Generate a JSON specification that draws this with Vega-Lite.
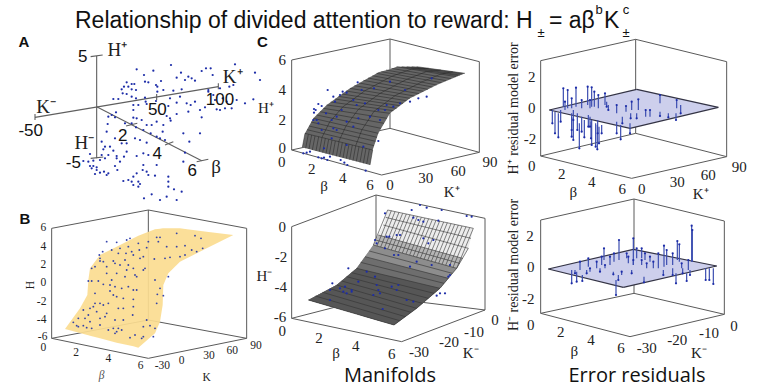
{"$schema":"https://vega.github.io/schema/vega-lite/v6.json","width":757,"height":388,"padding":0,"autosize":{"type":"none"},"background":"white","config":{"view":{"stroke":null}},
"datasets":{
"stemsTop":[{"x":187,"y":280,"y2":240},{"x":195,"y":310,"y2":245},{"x":205,"y":322,"y2":250},{"x":212,"y":275,"y2":240},{"x":245,"y":320,"y2":262},{"x":250,"y":330,"y2":265},{"x":268,"y":355,"y2":280},{"x":283,"y":322,"y2":270},{"x":303,"y":325,"y2":275},{"x":305,"y":345,"y2":270},{"x":317,"y":350,"y2":280},{"x":322,"y":358,"y2":285},{"x":327,"y":340,"y2":290},{"x":323,"y":310,"y2":270},{"x":250,"y":270,"y2":240},{"x":245,"y":300,"y2":250},{"x":262,"y":300,"y2":250},{"x":275,"y":305,"y2":260},{"x":295,"y":290,"y2":255},{"x":300,"y":290,"y2":260},{"x":335,"y":310,"y2":285},{"x":380,"y":310,"y2":275},{"x":392,"y":328,"y2":285},{"x":420,"y":310,"y2":280},{"x":220,"y":175,"y2":230},{"x":233,"y":180,"y2":235},{"x":258,"y":173,"y2":230},{"x":245,"y":205,"y2":235},{"x":293,"y":170,"y2":225},{"x":305,"y":172,"y2":230},{"x":313,"y":185,"y2":230},{"x":325,"y":195,"y2":235},{"x":345,"y":190,"y2":225},{"x":350,"y":230,"y2":215},{"x":275,"y":210,"y2":235},{"x":225,"y":215,"y2":240},{"x":300,"y":210,"y2":235},{"x":355,"y":240,"y2":225},{"x":380,"y":225,"y2":250},{"x":408,"y":228,"y2":245},{"x":425,"y":215,"y2":240},{"x":445,"y":208,"y2":240},{"x":467,"y":240,"y2":260},{"x":510,"y":195,"y2":220},{"x":560,"y":210,"y2":235},{"x":572,"y":250,"y2":225},{"x":558,"y":270,"y2":250},{"x":510,"y":258,"y2":245},{"x":480,"y":240,"y2":260},{"x":440,"y":265,"y2":250},{"x":422,"y":265,"y2":250},{"x":397,"y":280,"y2":260},{"x":535,"y":262,"y2":250}],
"stemsBot":[{"x":387,"y":105,"y2":165},{"x":430,"y":100,"y2":180},{"x":342,"y":130,"y2":165},{"x":605,"y":62,"y2":170},{"x":607,"y":75,"y2":170},{"x":562,"y":108,"y2":165},{"x":568,"y":118,"y2":170},{"x":522,"y":122,"y2":185},{"x":530,"y":135,"y2":180},{"x":548,"y":145,"y2":180},{"x":505,"y":145,"y2":190},{"x":440,"y":130,"y2":160},{"x":455,"y":130,"y2":160},{"x":465,"y":145,"y2":165},{"x":480,"y":155,"y2":170},{"x":490,"y":170,"y2":190},{"x":410,"y":145,"y2":160},{"x":372,"y":145,"y2":170},{"x":360,"y":155,"y2":180},{"x":335,"y":155,"y2":180},{"x":295,"y":160,"y2":185},{"x":270,"y":170,"y2":195},{"x":320,"y":170,"y2":190},{"x":345,"y":180,"y2":190},{"x":300,"y":190,"y2":200},{"x":415,"y":155,"y2":175},{"x":430,"y":165,"y2":180},{"x":455,"y":165,"y2":180},{"x":470,"y":175,"y2":190},{"x":575,"y":175,"y2":190},{"x":595,"y":165,"y2":195},{"x":245,"y":235,"y2":195},{"x":260,"y":230,"y2":200},{"x":277,"y":228,"y2":210},{"x":255,"y":205,"y2":195},{"x":378,"y":270,"y2":225},{"x":385,"y":225,"y2":210},{"x":395,"y":200,"y2":210},{"x":290,"y":205,"y2":195},{"x":330,"y":200,"y2":190},{"x":370,"y":208,"y2":200},{"x":425,"y":205,"y2":195},{"x":462,"y":232,"y2":215},{"x":520,"y":210,"y2":195},{"x":548,"y":210,"y2":190},{"x":558,"y":235,"y2":205},{"x":590,"y":228,"y2":205},{"x":578,"y":205,"y2":190},{"x":600,"y":210,"y2":195},{"x":647,"y":225,"y2":190},{"x":658,"y":225,"y2":190},{"x":670,"y":237,"y2":190}]
},
"resolve":{"scale":{"x":"independent","y":"independent"}},
"layer":[
{"encoding":{"x":{"field":"x","type":"quantitative","axis":null,"scale":{"domain":[0,2271],"nice":false,"zero":false}},"y":{"field":"y","type":"quantitative","axis":null,"scale":{"domain":[1074,-90],"nice":false,"zero":false}}},
"layer":[
{"data":{"values":[{"x":290,"y":78,"x2":290,"y2":385},{"x":272,"y":80,"x2":308,"y2":75},{"x":272,"y":385,"x2":310,"y2":381},{"x":105,"y":262,"x2":655,"y2":170},{"x":105,"y":252,"x2":105,"y2":270},{"x":655,"y":160,"x2":655,"y2":178},{"x":470,"y":192,"x2":470,"y2":210},{"x":290,"y":230,"x2":605,"y2":392},{"x":590,"y":395,"x2":625,"y2":388},{"x":378,"y":288,"x2":412,"y2":280},{"x":495,"y":345,"x2":520,"y2":335}]},"mark":{"type":"rule","stroke":"#5f5f5f","strokeWidth":1.1},"encoding":{"x2":{"field":"x2"},"y2":{"field":"y2"}}},
{"data":{"values":[{"x":513,"y":105},{"x":705,"y":103},{"x":410,"y":118},{"x":460,"y":122},{"x":618,"y":115},{"x":632,"y":115},{"x":605,"y":123},{"x":543,"y":128},{"x":638,"y":135},{"x":432,"y":135},{"x":585,"y":152},{"x":565,"y":140},{"x":575,"y":145},{"x":530,"y":143},{"x":555,"y":150},{"x":483,"y":153},{"x":435,"y":155},{"x":445,"y":157},{"x":468,"y":165},{"x":472,"y":170},{"x":380,"y":157},{"x":395,"y":162},{"x":403,"y":162},{"x":372,"y":170},{"x":385,"y":170},{"x":365,"y":178},{"x":395,"y":178},{"x":408,"y":180},{"x":472,"y":185},{"x":490,"y":180},{"x":520,"y":182},{"x":545,"y":178},{"x":625,"y":180},{"x":660,"y":175},{"x":688,"y":170},{"x":700,"y":165},{"x":368,"y":190},{"x":380,"y":192},{"x":395,"y":200},{"x":408,"y":205},{"x":435,"y":203},{"x":437,"y":215},{"x":468,"y":213},{"x":340,"y":207},{"x":355,"y":207},{"x":510,"y":205},{"x":540,"y":200},{"x":625,"y":185},{"x":640,"y":195},{"x":585,"y":215},{"x":560,"y":220},{"x":572,"y":225},{"x":645,"y":210},{"x":668,"y":205},{"x":680,"y":215},{"x":710,"y":210},{"x":735,"y":220},{"x":765,"y":128},{"x":780,"y":150},{"x":760,"y":208},{"x":400,"y":225},{"x":415,"y":225},{"x":400,"y":240},{"x":440,"y":222},{"x":505,"y":228},{"x":530,"y":218},{"x":600,"y":240},{"x":615,"y":232},{"x":650,"y":238},{"x":660,"y":240},{"x":675,"y":235},{"x":695,"y":235},{"x":565,"y":245},{"x":530,"y":252},{"x":500,"y":258},{"x":510,"y":265},{"x":605,"y":262},{"x":512,"y":272},{"x":348,"y":247},{"x":335,"y":255},{"x":325,"y":260},{"x":345,"y":262},{"x":400,"y":263},{"x":410,"y":265},{"x":425,"y":270},{"x":375,"y":280},{"x":395,"y":280},{"x":440,"y":285},{"x":455,"y":285},{"x":470,"y":275},{"x":490,"y":285},{"x":408,"y":292},{"x":430,"y":300},{"x":452,"y":310},{"x":488,"y":305},{"x":470,"y":320},{"x":480,"y":325},{"x":495,"y":330},{"x":550,"y":310},{"x":600,"y":310},{"x":568,"y":335},{"x":323,"y":282},{"x":320,"y":305},{"x":405,"y":325},{"x":420,"y":330},{"x":440,"y":338},{"x":305,"y":335},{"x":345,"y":325},{"x":365,"y":340},{"x":380,"y":340},{"x":315,"y":350},{"x":330,"y":350},{"x":310,"y":358},{"x":340,"y":362},{"x":350,"y":378},{"x":380,"y":365},{"x":410,"y":378},{"x":430,"y":370},{"x":445,"y":375},{"x":470,"y":405},{"x":555,"y":368},{"x":550,"y":395},{"x":270,"y":372},{"x":305,"y":375},{"x":325,"y":375},{"x":315,"y":385},{"x":300,"y":390},{"x":280,"y":392},{"x":250,"y":393},{"x":265,"y":395},{"x":350,"y":385},{"x":372,"y":380},{"x":360,"y":395},{"x":345,"y":408},{"x":352,"y":420},{"x":430,"y":405},{"x":440,"y":425},{"x":428,"y":420},{"x":410,"y":430},{"x":400,"y":440},{"x":385,"y":450},{"x":370,"y":453},{"x":395,"y":455},{"x":415,"y":455},{"x":420,"y":462},{"x":400,"y":465},{"x":415,"y":470},{"x":445,"y":435},{"x":465,"y":437},{"x":270,"y":408},{"x":280,"y":408},{"x":290,"y":412},{"x":275,"y":415},{"x":290,"y":420},{"x":300,"y":428},{"x":285,"y":432},{"x":312,"y":425},{"x":325,"y":430},{"x":320,"y":435},{"x":505,"y":440},{"x":505,"y":455},{"x":505,"y":470},{"x":522,"y":478},{"x":545,"y":485},{"x":530,"y":510},{"x":500,"y":500},{"x":480,"y":510},{"x":455,"y":493},{"x":432,"y":505}]},"mark":{"type":"point","filled":true,"size":5,"color":"#1c2ca8","opacity":1}},
{"data":{"values":[{"x":248,"y":82,"t":"5"},{"x":92,"y":302,"t":"-50"},{"x":472,"y":240,"t":"50"},{"x":660,"y":210,"t":"100"},{"x":368,"y":317,"t":"2"},{"x":472,"y":372,"t":"4"},{"x":577,"y":422,"t":"6"},{"x":220,"y":400,"t":"-5"}]},"mark":{"type":"text","font":"Liberation Sans","fontSize":17,"align":"center","baseline":"middle","color":"#111"},"encoding":{"text":{"field":"t"}}},
{"data":{"values":[{"x":352,"y":60,"t":"H⁺"},{"x":698,"y":142,"t":"K⁺"},{"x":138,"y":230,"t":"K⁻"},{"x":253,"y":340,"t":"H⁻"},{"x":648,"y":410,"t":"β"}]},"mark":{"type":"text","font":"Liberation Serif","fontSize":19,"align":"center","baseline":"middle","color":"#222"},"encoding":{"text":{"field":"t"}}},
{"data":{"values":[{"x":72,"y":35,"t":"A"}]},"mark":{"type":"text","font":"Liberation Sans","fontWeight":"bold","fontSize":15,"align":"center","baseline":"middle","color":"#111"},"encoding":{"text":{"field":"t"}}}
]},
{"encoding":{"x":{"field":"x","type":"quantitative","axis":null,"scale":{"domain":[0,2271],"nice":false,"zero":false}},"y":{"field":"y","type":"quantitative","axis":null,"scale":{"domain":[549,-615],"nice":false,"zero":false}}},
"layer":[
{"data":{"values":[{"x":155,"y":70,"x2":155,"y2":400},{"x":155,"y":70,"x2":445,"y2":15},{"x":445,"y":15,"x2":740,"y2":70},{"x":445,"y":15,"x2":445,"y2":345},{"x":740,"y":70,"x2":740,"y2":400},{"x":155,"y":400,"x2":445,"y2":345},{"x":445,"y":345,"x2":740,"y2":400},{"x":155,"y":400,"x2":445,"y2":460},{"x":445,"y":460,"x2":740,"y2":400}]},"mark":{"type":"rule","stroke":"#5a5a5a","strokeWidth":1},"encoding":{"x2":{"field":"x2"},"y2":{"field":"y2"}}},
{"data":{"values":[{"x":195,"y":372,"y2":372},{"x":240,"y":310,"y2":384},{"x":262,"y":270,"y2":390},{"x":265,"y":225,"y2":391},{"x":270,"y":190,"y2":392},{"x":300,"y":150,"y2":400},{"x":350,"y":125,"y2":413},{"x":400,"y":100,"y2":424},{"x":415,"y":92,"y2":428},{"x":465,"y":73,"y2":385},{"x":480,"y":71,"y2":350},{"x":488,"y":70,"y2":300},{"x":490,"y":70,"y2":240},{"x":505,"y":70,"y2":205},{"x":540,"y":70,"y2":170},{"x":550,"y":71,"y2":165},{"x":620,"y":80,"y2":130},{"x":700,"y":90,"y2":90}]},"mark":{"type":"area","color":"#fbdc90","opacity":0.92,"interpolate":"linear"},"encoding":{"y2":{"field":"y2"}}},
{"data":{"values":[{"x":320,"y":110},{"x":350,"y":112},{"x":390,"y":100},{"x":380,"y":105},{"x":360,"y":130},{"x":385,"y":125},{"x":415,"y":115},{"x":445,"y":110},{"x":470,"y":97},{"x":480,"y":97},{"x":530,"y":85},{"x":585,"y":92},{"x":603,"y":100},{"x":298,"y":150},{"x":308,"y":140},{"x":300,"y":160},{"x":335,"y":135},{"x":355,"y":145},{"x":378,"y":145},{"x":395,"y":140},{"x":418,"y":135},{"x":440,"y":128},{"x":475,"y":110},{"x":500,"y":125},{"x":530,"y":125},{"x":555,"y":122},{"x":575,"y":135},{"x":608,"y":130},{"x":590,"y":140},{"x":555,"y":150},{"x":540,"y":155},{"x":495,"y":160},{"x":510,"y":157},{"x":463,"y":162},{"x":430,"y":155},{"x":420,"y":160},{"x":400,"y":150},{"x":375,"y":165},{"x":340,"y":168},{"x":300,"y":168},{"x":310,"y":170},{"x":275,"y":190},{"x":285,"y":185},{"x":320,"y":185},{"x":345,"y":175},{"x":360,"y":180},{"x":385,"y":180},{"x":400,"y":190},{"x":430,"y":195},{"x":435,"y":190},{"x":380,"y":195},{"x":350,"y":205},{"x":320,"y":205},{"x":405,"y":210},{"x":410,"y":215},{"x":375,"y":215},{"x":335,"y":225},{"x":295,"y":228},{"x":275,"y":228},{"x":265,"y":228},{"x":465,"y":225},{"x":505,"y":215},{"x":480,"y":250},{"x":310,"y":238},{"x":330,"y":240},{"x":345,"y":245},{"x":365,"y":250},{"x":385,"y":245},{"x":400,"y":255},{"x":410,"y":255},{"x":330,"y":258},{"x":340,"y":270},{"x":350,"y":275},{"x":370,"y":280},{"x":400,"y":283},{"x":285,"y":265},{"x":472,"y":268},{"x":490,"y":272},{"x":470,"y":295},{"x":300,"y":295},{"x":285,"y":295},{"x":280,"y":305},{"x":325,"y":295},{"x":310,"y":300},{"x":250,"y":315},{"x":270,"y":310},{"x":320,"y":325},{"x":355,"y":310},{"x":370,"y":310},{"x":400,"y":305},{"x":398,"y":330},{"x":265,"y":330},{"x":235,"y":340},{"x":255,"y":340},{"x":270,"y":350},{"x":300,"y":340},{"x":315,"y":335},{"x":345,"y":345},{"x":370,"y":345},{"x":220,"y":352},{"x":230,"y":362},{"x":250,"y":362},{"x":260,"y":368},{"x":275,"y":370},{"x":235,"y":365},{"x":300,"y":360},{"x":325,"y":375},{"x":340,"y":370},{"x":355,"y":370},{"x":365,"y":375},{"x":345,"y":385},{"x":390,"y":398},{"x":430,"y":365},{"x":440,"y":345},{"x":465,"y":370},{"x":430,"y":395},{"x":425,"y":400},{"x":460,"y":395},{"x":405,"y":390},{"x":450,"y":362},{"x":350,"y":380},{"x":290,"y":320}]},"mark":{"type":"point","filled":true,"size":3.5,"color":"#2a3aa8","opacity":0.95}},
{"data":{"values":[{"x":130,"y":70,"t":"6"},{"x":130,"y":125,"t":"4"},{"x":130,"y":180,"t":"2"},{"x":130,"y":235,"t":"0"},{"x":125,"y":290,"t":"-2"},{"x":125,"y":345,"t":"-4"},{"x":128,"y":397,"t":"-6"},{"x":130,"y":429,"t":"0"},{"x":228,"y":445,"t":"2"},{"x":325,"y":462,"t":"4"},{"x":422,"y":482,"t":"6"},{"x":487,"y":482,"t":"-30"},{"x":545,"y":467,"t":"0"},{"x":627,"y":453,"t":"30"},{"x":697,"y":438,"t":"60"},{"x":768,"y":423,"t":"90"},{"x":620,"y":520,"t":"K"}]},"mark":{"type":"text","font":"Liberation Serif","fontSize":11.5,"align":"center","baseline":"middle","color":"#222"},"encoding":{"text":{"field":"t"}}},
{"data":{"values":[{"x":305,"y":512,"t":"β"}]},"mark":{"type":"text","font":"Liberation Serif","fontStyle":"italic","fontSize":11.5,"align":"center","baseline":"middle","color":"#555"},"encoding":{"text":{"field":"t"}}},
{"data":{"values":[{"x":93,"y":240,"t":"H"}]},"mark":{"type":"text","font":"Liberation Serif","fontSize":11.5,"angle":270,"align":"center","baseline":"middle","color":"#222"},"encoding":{"text":{"field":"t"}}},
{"data":{"values":[{"x":75,"y":42,"t":"B"}]},"mark":{"type":"text","font":"Liberation Sans","fontWeight":"bold","fontSize":15,"align":"center","baseline":"middle","color":"#111"},"encoding":{"text":{"field":"t"}}}
]},
{"encoding":{"x":{"field":"x","type":"quantitative","axis":null,"scale":{"domain":[-750,1521],"nice":false,"zero":false}},"y":{"field":"y","type":"quantitative","axis":null,"scale":{"domain":[1074,-90],"nice":false,"zero":false}}},
"layer":[
{"data":{"values":[{"x":125,"y":90,"x2":125,"y2":360},{"x":125,"y":90,"x2":420,"y2":27},{"x":420,"y":27,"x2":688,"y2":95},{"x":420,"y":27,"x2":420,"y2":295},{"x":688,"y":95,"x2":688,"y2":367},{"x":125,"y":360,"x2":420,"y2":295},{"x":420,"y":295,"x2":688,"y2":367},{"x":125,"y":360,"x2":395,"y2":435},{"x":395,"y":435,"x2":688,"y2":367}]},"mark":{"type":"rule","stroke":"#5a5a5a","strokeWidth":1},"encoding":{"x2":{"field":"x2"},"y2":{"field":"y2"}}},
{"data":{"values":[{"x":157,"y":352,"y2":352},{"x":165,"y":310,"y2":354},{"x":190,"y":265,"y2":361},{"x":230,"y":225,"y2":371},{"x":300,"y":175,"y2":389},{"x":360,"y":141,"y2":405},{"x":368,"y":137,"y2":360},{"x":385,"y":127,"y2":310},{"x":420,"y":118,"y2":250},{"x":440,"y":110,"y2":235},{"x":480,"y":110,"y2":205},{"x":500,"y":110,"y2":195},{"x":560,"y":118,"y2":165},{"x":645,"y":130,"y2":130}]},"mark":{"type":"area","color":"#666666"},"encoding":{"y2":{"field":"y2"}}},
{"data":{"values":[{"x":165,"y":310,"x2":368,"y2":360},{"x":177,"y":288,"x2":377,"y2":334},{"x":190,"y":265,"x2":385,"y2":310},{"x":210,"y":245,"x2":402,"y2":280},{"x":230,"y":225,"x2":420,"y2":250},{"x":255,"y":207,"x2":440,"y2":235},{"x":276,"y":192,"x2":459,"y2":220},{"x":300,"y":175,"x2":480,"y2":205},{"x":327,"y":159,"x2":507,"y2":191},{"x":354,"y":144,"x2":534,"y2":178},{"x":380,"y":130,"x2":560,"y2":165},{"x":408,"y":120,"x2":588,"y2":152},{"x":440,"y":110,"x2":618,"y2":140},{"x":470,"y":110,"x2":630,"y2":135},{"x":500,"y":110,"x2":645,"y2":130},{"x":171,"y":299,"x2":372,"y2":347},{"x":183,"y":276,"x2":381,"y2":322},{"x":200,"y":255,"x2":393,"y2":295},{"x":220,"y":235,"x2":411,"y2":265},{"x":242,"y":216,"x2":430,"y2":242},{"x":265,"y":199,"x2":449,"y2":227},{"x":288,"y":183,"x2":469,"y2":212},{"x":313,"y":167,"x2":493,"y2":198},{"x":340,"y":151,"x2":520,"y2":184},{"x":367,"y":137,"x2":547,"y2":171},{"x":394,"y":125,"x2":574,"y2":158},{"x":424,"y":115,"x2":603,"y2":146},{"x":455,"y":110,"x2":624,"y2":137},{"x":485,"y":110,"x2":637,"y2":132},{"x":165,"y":310,"x2":157,"y2":352},{"x":175,"y":313,"x2":167,"y2":355},{"x":185,"y":315,"x2":177,"y2":357},{"x":195,"y":318,"x2":187,"y2":360},{"x":206,"y":320,"x2":198,"y2":363},{"x":216,"y":323,"x2":208,"y2":365},{"x":226,"y":325,"x2":218,"y2":368},{"x":236,"y":328,"x2":228,"y2":371},{"x":246,"y":330,"x2":238,"y2":373},{"x":256,"y":333,"x2":248,"y2":376},{"x":267,"y":335,"x2":259,"y2":379},{"x":277,"y":338,"x2":269,"y2":381},{"x":287,"y":340,"x2":279,"y2":384},{"x":297,"y":343,"x2":289,"y2":386},{"x":307,"y":345,"x2":299,"y2":389},{"x":317,"y":348,"x2":309,"y2":392},{"x":327,"y":350,"x2":319,"y2":394},{"x":338,"y":353,"x2":330,"y2":397},{"x":348,"y":355,"x2":340,"y2":400},{"x":358,"y":358,"x2":350,"y2":402},{"x":368,"y":360,"x2":360,"y2":405},{"x":266,"y":335,"x2":288,"y2":288},{"x":288,"y":288,"x2":325,"y2":238},{"x":325,"y":238,"x2":390,"y2":190},{"x":390,"y":190,"x2":470,"y2":148},{"x":470,"y":148,"x2":529,"y2":125},{"x":529,"y":125,"x2":572,"y2":120},{"x":216,"y":322,"x2":239,"y2":276},{"x":239,"y":276,"x2":278,"y2":231},{"x":278,"y":231,"x2":345,"y2":182},{"x":345,"y":182,"x2":425,"y2":139},{"x":425,"y":139,"x2":485,"y2":117},{"x":485,"y":117,"x2":536,"y2":115},{"x":317,"y":347,"x2":336,"y2":299},{"x":336,"y":299,"x2":372,"y2":244},{"x":372,"y":244,"x2":435,"y2":197},{"x":435,"y":197,"x2":515,"y2":156},{"x":515,"y":156,"x2":573,"y2":132},{"x":573,"y":132,"x2":608,"y2":125}]},"mark":{"type":"rule","stroke":"#222222","strokeWidth":0.5},"encoding":{"x2":{"field":"x2"},"y2":{"field":"y2"}}},
{"data":{"values":[{"x":323,"y":157},{"x":233,"y":180},{"x":278,"y":185},{"x":290,"y":188},{"x":270,"y":195},{"x":250,"y":200},{"x":335,"y":180},{"x":372,"y":175},{"x":255,"y":215},{"x":205,"y":222},{"x":215,"y":228},{"x":192,"y":237},{"x":197,"y":240},{"x":192,"y":248},{"x":190,"y":270},{"x":200,"y":270},{"x":205,"y":280},{"x":228,"y":250},{"x":245,"y":270},{"x":260,"y":260},{"x":275,"y":240},{"x":310,"y":210},{"x":320,"y":225},{"x":345,"y":220},{"x":385,"y":240},{"x":405,"y":240},{"x":430,"y":230},{"x":450,"y":220},{"x":480,"y":215},{"x":530,"y":200},{"x":505,"y":205},{"x":545,"y":145},{"x":420,"y":155},{"x":390,"y":270},{"x":360,"y":260},{"x":325,"y":265},{"x":310,"y":290},{"x":290,"y":275},{"x":250,"y":295},{"x":215,"y":300},{"x":245,"y":325},{"x":290,"y":345},{"x":340,"y":350},{"x":385,"y":333},{"x":222,"y":355},{"x":160,"y":370},{"x":170,"y":368},{"x":180,"y":365},{"x":205,"y":382},{"x":215,"y":385},{"x":222,"y":383},{"x":240,"y":380},{"x":232,"y":390},{"x":272,"y":390},{"x":283,"y":398},{"x":292,"y":405},{"x":347,"y":422},{"x":410,"y":225},{"x":465,"y":180},{"x":260,"y":300}]},"mark":{"type":"point","filled":true,"size":5,"color":"#1c2ca8","opacity":1}},
{"data":{"values":[{"x":97,"y":90,"t":"6"},{"x":97,"y":180,"t":"4"},{"x":97,"y":270,"t":"2"},{"x":97,"y":353,"t":"0"},{"x":95,"y":395,"t":"0"},{"x":185,"y":418,"t":"2"},{"x":278,"y":443,"t":"4"},{"x":360,"y":465,"t":"6"},{"x":420,"y":465,"t":"0"},{"x":527,"y":445,"t":"30"},{"x":625,"y":422,"t":"60"},{"x":720,"y":397,"t":"90"},{"x":222,"y":468,"t":"β"},{"x":605,"y":485,"t":"K⁺"},{"x":48,"y":233,"t":"H⁺"}]},"mark":{"type":"text","font":"Liberation Serif","fontSize":15,"align":"center","baseline":"middle","color":"#222"},"encoding":{"text":{"field":"t"}}},
{"data":{"values":[{"x":37,"y":35,"t":"C"}]},"mark":{"type":"text","font":"Liberation Sans","fontWeight":"bold","fontSize":15,"align":"center","baseline":"middle","color":"#111"},"encoding":{"text":{"field":"t"}}}
]},
{"encoding":{"x":{"field":"x","type":"quantitative","axis":null,"scale":{"domain":[-750,1521],"nice":false,"zero":false}},"y":{"field":"y","type":"quantitative","axis":null,"scale":{"domain":[549,-615],"nice":false,"zero":false}}},
"layer":[
{"data":{"values":[{"x":125,"y":65,"x2":125,"y2":340},{"x":125,"y":65,"x2":378,"y2":-30},{"x":378,"y":-30,"x2":705,"y2":40},{"x":378,"y":-30,"x2":378,"y2":275},{"x":705,"y":40,"x2":705,"y2":315},{"x":125,"y":340,"x2":378,"y2":275},{"x":378,"y":275,"x2":705,"y2":315},{"x":125,"y":340,"x2":455,"y2":410},{"x":455,"y":410,"x2":705,"y2":315}]},"mark":{"type":"rule","stroke":"#5a5a5a","strokeWidth":1},"encoding":{"x2":{"field":"x2"},"y2":{"field":"y2"}}},
{"data":{"values":[{"x":175,"y":285,"y2":285},{"x":260,"y":240,"y2":310},{"x":320,"y":190,"y2":327},{"x":370,"y":120,"y2":342},{"x":400,"y":60,"y2":351},{"x":413,"y":15,"y2":354},{"x":432,"y":19,"y2":360},{"x":500,"y":34,"y2":310},{"x":570,"y":49,"y2":250},{"x":620,"y":59,"y2":190},{"x":655,"y":67,"y2":130},{"x":670,"y":70,"y2":70}]},"mark":{"type":"area","color":"#ececec"},"encoding":{"y2":{"field":"y2"}}},
{"data":{"values":[{"x":175,"y":285,"y2":285},{"x":260,"y":240,"y2":310},{"x":320,"y":190,"y2":327},{"x":370,"y":120,"y2":342},{"x":385,"y":90,"y2":347},{"x":432,"y":103,"y2":360},{"x":500,"y":122,"y2":310},{"x":570,"y":141,"y2":250},{"x":620,"y":155,"y2":190},{"x":638,"y":160,"y2":160}]},"mark":{"type":"area","color":"#b5b5b5"},"encoding":{"y2":{"field":"y2"}}},
{"data":{"values":[{"x":175,"y":285,"y2":285},{"x":260,"y":240,"y2":310},{"x":320,"y":190,"y2":327},{"x":370,"y":120,"y2":342},{"x":432,"y":137,"y2":360},{"x":500,"y":156,"y2":310},{"x":570,"y":176,"y2":250},{"x":620,"y":190,"y2":190}]},"mark":{"type":"area","color":"#8d8d8d"},"encoding":{"y2":{"field":"y2"}}},
{"data":{"values":[{"x":175,"y":285,"y2":285},{"x":260,"y":240,"y2":310},{"x":320,"y":190,"y2":327},{"x":345,"y":155,"y2":335},{"x":432,"y":178,"y2":360},{"x":500,"y":195,"y2":310},{"x":570,"y":213,"y2":250},{"x":595,"y":220,"y2":220}]},"mark":{"type":"area","color":"#6e6e6e"},"encoding":{"y2":{"field":"y2"}}},
{"data":{"values":[{"x":175,"y":285,"y2":285},{"x":260,"y":240,"y2":310},{"x":320,"y":190,"y2":327},{"x":370,"y":202,"y2":342},{"x":413,"y":212,"y2":354},{"x":432,"y":216,"y2":360},{"x":500,"y":233,"y2":310},{"x":570,"y":250,"y2":250}]},"mark":{"type":"area","color":"#565656"},"encoding":{"y2":{"field":"y2"}}},
{"data":{"values":[{"x":413,"y":15,"x2":670,"y2":70},{"x":407,"y":37,"x2":663,"y2":100},{"x":400,"y":60,"x2":655,"y2":130},{"x":385,"y":90,"x2":638,"y2":160},{"x":370,"y":120,"x2":620,"y2":190},{"x":345,"y":155,"x2":595,"y2":220},{"x":320,"y":190,"x2":570,"y2":250},{"x":290,"y":215,"x2":535,"y2":280},{"x":260,"y":240,"x2":500,"y2":310},{"x":218,"y":262,"x2":466,"y2":335},{"x":332,"y":172,"x2":582,"y2":235},{"x":305,"y":203,"x2":552,"y2":265},{"x":275,"y":228,"x2":517,"y2":295},{"x":239,"y":251,"x2":483,"y2":322},{"x":196,"y":273,"x2":449,"y2":347},{"x":358,"y":138,"x2":607,"y2":205},{"x":377,"y":105,"x2":629,"y2":175},{"x":370,"y":120,"x2":413,"y2":15},{"x":381,"y":123,"x2":424,"y2":17},{"x":392,"y":126,"x2":435,"y2":20},{"x":403,"y":129,"x2":447,"y2":22},{"x":413,"y":132,"x2":458,"y2":25},{"x":424,"y":135,"x2":469,"y2":27},{"x":435,"y":138,"x2":480,"y2":29},{"x":446,"y":141,"x2":491,"y2":32},{"x":457,"y":144,"x2":502,"y2":34},{"x":468,"y":147,"x2":514,"y2":37},{"x":479,"y":150,"x2":525,"y2":39},{"x":490,"y":153,"x2":536,"y2":41},{"x":500,"y":156,"x2":547,"y2":44},{"x":511,"y":160,"x2":558,"y2":46},{"x":522,"y":163,"x2":569,"y2":48},{"x":533,"y":166,"x2":581,"y2":51},{"x":544,"y":169,"x2":592,"y2":53},{"x":555,"y":172,"x2":603,"y2":56},{"x":566,"y":175,"x2":614,"y2":58},{"x":576,"y":178,"x2":625,"y2":60},{"x":587,"y":181,"x2":636,"y2":63},{"x":598,"y":184,"x2":648,"y2":65},{"x":609,"y":187,"x2":659,"y2":68},{"x":620,"y":190,"x2":670,"y2":70},{"x":620,"y":190,"x2":655,"y2":130},{"x":175,"y":285,"x2":432,"y2":360},{"x":432,"y":360,"x2":500,"y2":310},{"x":500,"y":310,"x2":570,"y2":250},{"x":570,"y":250,"x2":620,"y2":190}]},"mark":{"type":"rule","stroke":"#333333","strokeWidth":0.6},"encoding":{"x2":{"field":"x2"},"y2":{"field":"y2"}}},
{"data":{"values":[{"x":405,"y":25},{"x":485,"y":15},{"x":510,"y":0},{"x":530,"y":8},{"x":575,"y":15},{"x":650,"y":33},{"x":665,"y":35},{"x":490,"y":38},{"x":505,"y":45},{"x":520,"y":50},{"x":565,"y":47},{"x":375,"y":105},{"x":380,"y":115},{"x":418,"y":95},{"x":440,"y":90},{"x":450,"y":90},{"x":405,"y":130},{"x":432,"y":150},{"x":445,"y":150},{"x":520,"y":100},{"x":550,"y":105},{"x":535,"y":115},{"x":480,"y":185},{"x":500,"y":170},{"x":545,"y":180},{"x":600,"y":180},{"x":595,"y":215},{"x":600,"y":210},{"x":585,"y":265},{"x":570,"y":265},{"x":560,"y":272},{"x":247,"y":235},{"x":240,"y":255},{"x":240,"y":285},{"x":270,"y":250},{"x":285,"y":245},{"x":305,"y":260},{"x":290,"y":265},{"x":325,"y":230},{"x":375,"y":215},{"x":380,"y":240},{"x":385,"y":255},{"x":370,"y":270},{"x":390,"y":265},{"x":425,"y":245},{"x":445,"y":240},{"x":440,"y":255},{"x":398,"y":312},{"x":470,"y":285},{"x":490,"y":290},{"x":305,"y":255},{"x":280,"y":260},{"x":295,"y":190},{"x":350,"y":200},{"x":410,"y":95}]},"mark":{"type":"point","filled":true,"size":5,"color":"#1c2ca8","opacity":1}},
{"data":{"values":[{"x":97,"y":65,"t":"0"},{"x":93,"y":157,"t":"-2"},{"x":92,"y":247,"t":"-4"},{"x":90,"y":335,"t":"-6"},{"x":97,"y":378,"t":"0"},{"x":207,"y":400,"t":"2"},{"x":317,"y":423,"t":"4"},{"x":425,"y":447,"t":"6"},{"x":507,"y":440,"t":"-30"},{"x":597,"y":412,"t":"-20"},{"x":672,"y":380,"t":"-10"},{"x":735,"y":345,"t":"0"},{"x":258,"y":445,"t":"β"},{"x":662,"y":443,"t":"K⁻"},{"x":43,"y":213,"t":"H⁻"}]},"mark":{"type":"text","font":"Liberation Serif","fontSize":15,"align":"center","baseline":"middle","color":"#222"},"encoding":{"text":{"field":"t"}}}
]},
{"encoding":{"x":{"field":"x","type":"quantitative","axis":null,"scale":{"domain":[-1470,801],"nice":false,"zero":false}},"y":{"field":"y","type":"quantitative","axis":null,"scale":{"domain":[1074,-90],"nice":false,"zero":false}}},
"layer":[
{"data":{"values":[{"x":152,"y":92,"x2":152,"y2":378},{"x":152,"y":92,"x2":437,"y2":28},{"x":437,"y":28,"x2":710,"y2":95},{"x":437,"y":28,"x2":437,"y2":310},{"x":710,"y":95,"x2":710,"y2":380},{"x":152,"y":378,"x2":437,"y2":310},{"x":437,"y":310,"x2":710,"y2":380},{"x":152,"y":378,"x2":425,"y2":445},{"x":425,"y":445,"x2":710,"y2":380}]},"mark":{"type":"rule","stroke":"#5a5a5a","strokeWidth":1},"encoding":{"x2":{"field":"x2"},"y2":{"field":"y2"}}},
{"data":{"values":[{"x":178,"y":240,"y2":240},{"x":420,"y":183,"y2":295},{"x":440,"y":178,"y2":290},{"x":685,"y":232,"y2":232}]},"mark":{"type":"area","color":"#cdcfec"},"encoding":{"y2":{"field":"y2"}}},
{"data":{"values":[{"x":178,"y":240,"x2":420,"y2":295},{"x":440,"y":178,"x2":685,"y2":232},{"x":178,"y":240,"x2":440,"y2":178},{"x":420,"y":295,"x2":685,"y2":232}]},"mark":{"type":"rule","stroke":"#333344","strokeWidth":1.2},"encoding":{"x2":{"field":"x2"},"y2":{"field":"y2"}}},
{"data":{"name":"stemsTop"},"mark":{"type":"rule","stroke":"#3b4db0","strokeWidth":1.2},"encoding":{"y2":{"field":"y2"}}},
{"data":{"name":"stemsTop"},"mark":{"type":"point","filled":true,"size":5,"color":"#1c2ca8","opacity":1}},
{"data":{"values":[{"x":125,"y":140,"t":"2"},{"x":125,"y":233,"t":"0"},{"x":120,"y":328,"t":"-2"},{"x":125,"y":408,"t":"0"},{"x":215,"y":432,"t":"2"},{"x":305,"y":455,"t":"4"},{"x":397,"y":478,"t":"6"},{"x":455,"y":478,"t":"0"},{"x":562,"y":457,"t":"30"},{"x":655,"y":435,"t":"60"},{"x":748,"y":410,"t":"90"},{"x":250,"y":485,"t":"β"},{"x":632,"y":493,"t":"K⁺"}]},"mark":{"type":"text","font":"Liberation Serif","fontSize":15,"align":"center","baseline":"middle","color":"#222"},"encoding":{"text":{"field":"t"}}},
{"data":{"values":[{"x":73,"y":235,"t":"H⁺ residual model error"}]},"mark":{"type":"text","font":"Liberation Serif","fontSize":14,"angle":270,"align":"center","baseline":"middle","color":"#222"},"encoding":{"text":{"field":"t"}}}
]},
{"encoding":{"x":{"field":"x","type":"quantitative","axis":null,"scale":{"domain":[-1470,801],"nice":false,"zero":false}},"y":{"field":"y","type":"quantitative","axis":null,"scale":{"domain":[549,-615],"nice":false,"zero":false}}},
"layer":[
{"data":{"values":[{"x":152,"y":45,"x2":152,"y2":325},{"x":152,"y":45,"x2":432,"y2":-18},{"x":432,"y":-18,"x2":703,"y2":48},{"x":432,"y":-18,"x2":432,"y2":265},{"x":703,"y":48,"x2":703,"y2":328},{"x":152,"y":325,"x2":432,"y2":265},{"x":432,"y":265,"x2":703,"y2":328},{"x":152,"y":325,"x2":420,"y2":395},{"x":420,"y":395,"x2":703,"y2":328}]},"mark":{"type":"rule","stroke":"#5a5a5a","strokeWidth":1},"encoding":{"x2":{"field":"x2"},"y2":{"field":"y2"}}},
{"data":{"values":[{"x":175,"y":192,"y2":192},{"x":400,"y":140,"y2":247},{"x":430,"y":133,"y2":240},{"x":680,"y":183,"y2":183}]},"mark":{"type":"area","color":"#cdcfec"},"encoding":{"y2":{"field":"y2"}}},
{"data":{"values":[{"x":175,"y":192,"x2":400,"y2":247},{"x":430,"y":133,"x2":680,"y2":183},{"x":175,"y":192,"x2":430,"y2":133},{"x":400,"y":247,"x2":680,"y2":183}]},"mark":{"type":"rule","stroke":"#333344","strokeWidth":1.2},"encoding":{"x2":{"field":"x2"},"y2":{"field":"y2"}}},
{"data":{"name":"stemsBot"},"mark":{"type":"rule","stroke":"#3b4db0","strokeWidth":1.2},"encoding":{"y2":{"field":"y2"}}},
{"data":{"name":"stemsBot"},"mark":{"type":"point","filled":true,"size":5,"color":"#1c2ca8","opacity":1}},
{"data":{"values":[{"x":120,"y":92,"t":"2"},{"x":122,"y":186,"t":"0"},{"x":115,"y":282,"t":"-2"},{"x":122,"y":360,"t":"0"},{"x":212,"y":382,"t":"2"},{"x":303,"y":405,"t":"4"},{"x":393,"y":428,"t":"6"},{"x":470,"y":428,"t":"-30"},{"x":562,"y":405,"t":"-20"},{"x":657,"y":383,"t":"-10"},{"x":732,"y":362,"t":"0"},{"x":253,"y":437,"t":"β"},{"x":627,"y":443,"t":"K⁻"}]},"mark":{"type":"text","font":"Liberation Serif","fontSize":15,"align":"center","baseline":"middle","color":"#222"},"encoding":{"text":{"field":"t"}}},
{"data":{"values":[{"x":73,"y":180,"t":"H⁻ residual model error"}]},"mark":{"type":"text","font":"Liberation Serif","fontSize":14,"angle":270,"align":"center","baseline":"middle","color":"#222"},"encoding":{"text":{"field":"t"}}}
]},
{"encoding":{"x":{"field":"x","type":"quantitative","axis":null,"scale":{"domain":[0,757],"nice":false,"zero":false}},"y":{"field":"y","type":"quantitative","axis":null,"scale":{"domain":[388,0],"nice":false,"zero":false}},"text":{"field":"t"}},
"layer":[
{"data":{"values":[{"x":75,"y":28,"t":"Relationship of divided attention to reward: H"},{"x":549,"y":28,"t":"= aβ"},{"x":604,"y":28,"t":"K"}]},"mark":{"type":"text","font":"Liberation Sans","fontSize":23,"align":"left","baseline":"alphabetic","color":"#111"}},
{"data":{"values":[{"x":541,"y":37,"t":"±"},{"x":626,"y":37,"t":"±"},{"x":599,"y":14,"t":"b"},{"x":626,"y":14,"t":"c"}]},"mark":{"type":"text","font":"Liberation Sans","fontSize":13,"align":"center","baseline":"alphabetic","color":"#111"}},
{"data":{"values":[{"x":390,"y":382,"t":"Manifolds"},{"x":637,"y":382,"t":"Error residuals"}]},"mark":{"type":"text","font":"Open Sans","fontSize":20,"align":"center","baseline":"alphabetic","color":"#111"}}
]}
]}
